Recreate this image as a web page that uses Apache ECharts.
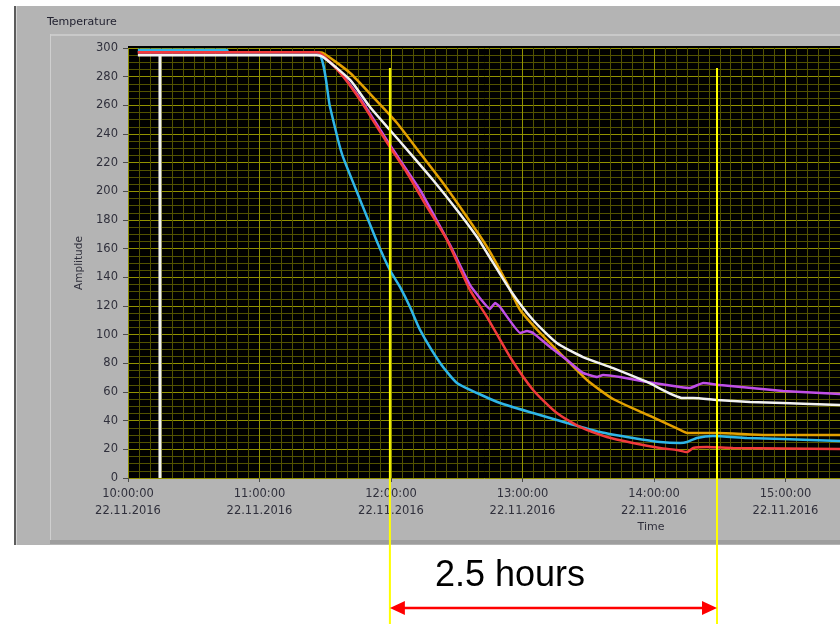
<!DOCTYPE html>
<html>
<head>
<meta charset="utf-8">
<style>
  html, body { margin: 0; padding: 0; background: #ffffff; }
  #wrap { position: relative; width: 840px; height: 624px; overflow: hidden; }
  .p { position: absolute; }
  #c { position: absolute; left: 0; top: 0; width: 840px; height: 624px; }
</style>
<script src="https://cdn.jsdelivr.net/npm/echarts@6/dist/echarts.min.js"></script>
</head>
<body>
<div id="wrap">
  <div class="p" style="left:14px;top:6px;width:826px;height:539px;background:#b4b4b4;"></div>
  <div class="p" style="left:14px;top:6px;width:2px;height:539px;background:#5c5c5c;"></div>
  <div class="p" style="left:16px;top:6px;width:1px;height:539px;background:#d2d2d2;"></div>
  <div class="p" style="left:50px;top:34px;width:790px;height:2px;background:#c9c9c9;"></div>
  <div class="p" style="left:50px;top:34px;width:1px;height:506px;background:#cfcfcf;"></div>
  <div class="p" style="left:50px;top:540px;width:790px;height:4px;background:#9e9e9e;"></div>
  <div class="p" style="left:128px;top:46px;width:712px;height:3px;background:#000000;"></div>
  <div id="c"></div>
</div>
<script>
// ---------- data ----------
const DATE_LABEL = '22.11.2016';
const xTickLabels = ['10:00:00', '11:00:00', '12:00:00', '13:00:00', '14:00:00', '15:00:00', '16:00:00'];

const cyanTimes = ['10:04:30','10:45:10','10:45:40','11:26:10','11:32:10','11:35:50','11:38:05','11:45:55','11:53:40','11:59:30','12:04:05','12:08:40','12:13:15','12:22:25','12:30:05','12:39:15','12:49:45','13:04:50','13:20:20','13:35:20','13:50:25','14:02:45','14:11:55','14:15:05','14:19:35','14:26:55','14:42:25','14:58:50','15:24:55'];
const cyanValues = [298.6,298.6,297,297,258.8,235.8,224,194,164.7,145.1,133.3,119.3,103.3,80.2,66.3,59.3,52.3,45.3,38.4,32.1,27.9,25.1,24.4,25.1,27.9,29.3,27.9,27.2,25.8];

const redTimes = ['10:04:30','11:26:10','11:36:45','11:45:55','11:53:40','11:59:30','12:07:20','12:16:25','12:25:35','12:36:00','12:43:50','12:54:20','13:04:50','13:15:40','13:26:15','13:38:30','13:50:25','14:02:45','14:10:30','14:15:05','14:17:50','14:24:10','14:36:00','15:24:55'];
const redValues = [297,297,282.6,263.7,244.9,230.9,212.8,189.1,166,131.2,112.3,84.4,61.4,45.3,35.6,28.6,24.4,20.9,19.5,18.1,20.9,21.6,20.9,20.2];

const magentaTimes = ['10:04:30','11:26:10','11:36:45','11:45:55','11:59:30','12:13:15','12:26:55','12:36:00','12:45:10','12:47:30','12:49:45','12:58:55','13:02:05','13:04:50','13:12:35','13:20:20','13:27:35','13:34:00','13:36:45','13:44:30','13:56:50','14:11:55','14:16:25','14:22:25','14:30:05','14:58:50','15:24:55'];
const magentaValues = [297,297,283.3,265,232.3,201,162.6,134.7,117.9,122.1,119.3,101.2,102.6,101.2,91.4,82.3,73.3,70.5,71.9,70.5,67,63.5,62.8,66.3,64.9,60.7,58.6];

const whiteTimes = ['10:04:30','11:26:10','11:29:00','11:41:20','11:50:25','11:59:30','12:08:40','12:19:10','12:30:05','12:39:15','12:43:50','12:54:20','13:04:50','13:15:40','13:27:35','13:41:20','13:56:50','14:13:15','14:17:50','14:28:45','14:43:50','14:58:50','15:24:55'];
const whiteValues = [295,295,293.7,277.7,258.8,242.8,226.7,207.9,187,168.1,157,131.2,110.2,94.2,84.4,76.7,67,55.8,55.8,54.4,53,52.3,50.9];

const orangeTimes = ['10:04:30','11:26:10','11:29:00','11:41:20','11:51:50','12:02:45','12:13:15','12:23:45','12:34:40','12:43:50','12:52:55','12:58:55','13:08:00','13:17:05','13:29:25','13:41:20','13:58:10','14:11:55','14:15:05','14:28:45','14:51:30','15:24:55'];
const orangeValues = [297,297,296.5,282.6,265.8,247.7,226.7,205.8,182.1,161.2,136,117.2,101.2,87.2,68.4,55.1,43.3,33.5,31.4,31.4,30,30];

const markerTimes = ['10:14:35','10:14:35'];
const markerValues = [0, 295];

// annotation: 2.5 hours span
const spanTimes = ['11:59:30', '14:28:45'];
const spanLabel = '2.5 hours';

// ---------- helpers ----------
const START_HOUR = 10;
function toMin(t) {
  const p = t.split(':').map(Number);
  return (p[0] - START_HOUR) * 60 + p[1] + (p[2] || 0) / 60;
}
function pairs(times, values) { return times.map((t, i) => [toMin(t), values[i]]); }
function mk(name, times, values, color, z, width, smooth) {
  return {
    name, type: 'line', data: pairs(times, values), symbol: 'none', showSymbol: false,
    smooth: smooth, z: z,
    lineStyle: { color: color, width: width }, itemStyle: { color: color },
    emphasis: { disabled: true }, animation: false
  };
}

const chart = echarts.init(document.getElementById('c'), null, { renderer: 'canvas' });
const FONT = 'DejaVu Sans';
const option = {
  backgroundColor: 'transparent',
  animation: false,
  grid: { left: 128, top: 48, width: 789, height: 430, show: true, backgroundColor: '#000000', borderWidth: 0, containLabel: false, outerBoundsMode: 'none' },
  xAxis: {
    type: 'value', min: 0, max: 360, interval: 60,
    axisLine: { show: false },
    axisTick: { show: true, length: 4, lineStyle: { color: '#4a4a4a', width: 1 } },
    minorTick: { show: false, splitNumber: 12 },
    axisLabel: {
      color: '#30303c', fontFamily: FONT, fontSize: 11.5, lineHeight: 16.5, margin: 8, hideOverlap: false,
      formatter: function (v) {
        if (Math.abs(v % 60) > 1e-6) return '';
        const i = Math.round(v / 60);
        return (xTickLabels[i] || '') + '\n' + DATE_LABEL;
      }
    },
    splitLine: { show: true, lineStyle: { color: '#929200', width: 1 } },
    minorSplitLine: { show: true, lineStyle: { color: '#525200', width: 1 } }
  },
  yAxis: {
    type: 'value', min: 0, max: 300, interval: 20,
    name: 'Amplitude', nameLocation: 'middle', nameGap: 43, nameRotate: 90,
    nameTextStyle: { color: '#30303c', fontFamily: FONT, fontSize: 10.5 },
    axisLine: { show: false },
    axisTick: { show: true, length: 5, lineStyle: { color: '#4a4a4a', width: 1 } },
    minorTick: { show: false, splitNumber: 4 },
    axisLabel: { color: '#30303c', fontFamily: FONT, fontSize: 11.5, margin: 10 },
    splitLine: { show: true, lineStyle: { color: '#929200', width: 1 } },
    minorSplitLine: { show: true, lineStyle: { color: '#525200', width: 1 } }
  },
  series: [
    mk('orange', orangeTimes, orangeValues, '#e3a000', 3, 2.5, 0.2),
    mk('magenta', magentaTimes, magentaValues, '#c04fe8', 4, 2.5, 0.1),
    mk('cyan', cyanTimes, cyanValues, '#2fb6e8', 5, 2.5, 0.2),
    mk('red', redTimes, redValues, '#f23a3c', 6, 2.5, 0.2),
    mk('white', whiteTimes, whiteValues, '#f2f2f2', 7, 2.5, 0.2),
    mk('marker', markerTimes, markerValues, '#f2f2f2', 7, 3, false)
  ]
};
chart.setOption(option);

// annotations positioned through the axis scale
const xa = chart.convertToPixel({ xAxisIndex: 0 }, toMin(spanTimes[0]));
const xb = chart.convertToPixel({ xAxisIndex: 0 }, toMin(spanTimes[1]));
const ay = 608, ah = 15, aw = 7;
chart.setOption({
  graphic: [
    { type: 'text', left: 47, top: 17, z: 10, style: { text: 'Temperature', fill: '#222230', font: '11px "DejaVu Sans"' } },
    { type: 'text', x: 651, y: 527, z: 10, style: { text: 'Time', fill: '#30303c', font: '11px "DejaVu Sans"', align: 'center', verticalAlign: 'middle' } },
    { type: 'line', z: 50, shape: { x1: xa, y1: 68, x2: xa, y2: 624 }, style: { stroke: '#ffff00', lineWidth: 2 } },
    { type: 'line', z: 50, shape: { x1: xb, y1: 68, x2: xb, y2: 624 }, style: { stroke: '#ffff00', lineWidth: 2 } },
    { type: 'line', z: 51, shape: { x1: xa + ah - 2, y1: ay, x2: xb - ah + 2, y2: ay }, style: { stroke: '#ff0000', lineWidth: 2.5 } },
    { type: 'polygon', z: 51, shape: { points: [[xa, ay], [xa + ah, ay - aw], [xa + ah, ay + aw]] }, style: { fill: '#ff0000' } },
    { type: 'polygon', z: 51, shape: { points: [[xb, ay], [xb - ah, ay - aw], [xb - ah, ay + aw]] }, style: { fill: '#ff0000' } },
    { type: 'text', x: 435, y: 576, z: 51, style: { text: spanLabel, fill: '#000000', font: '36px "Liberation Sans"', align: 'left', verticalAlign: 'middle' } }
  ]
});
</script>
</body>
</html>
